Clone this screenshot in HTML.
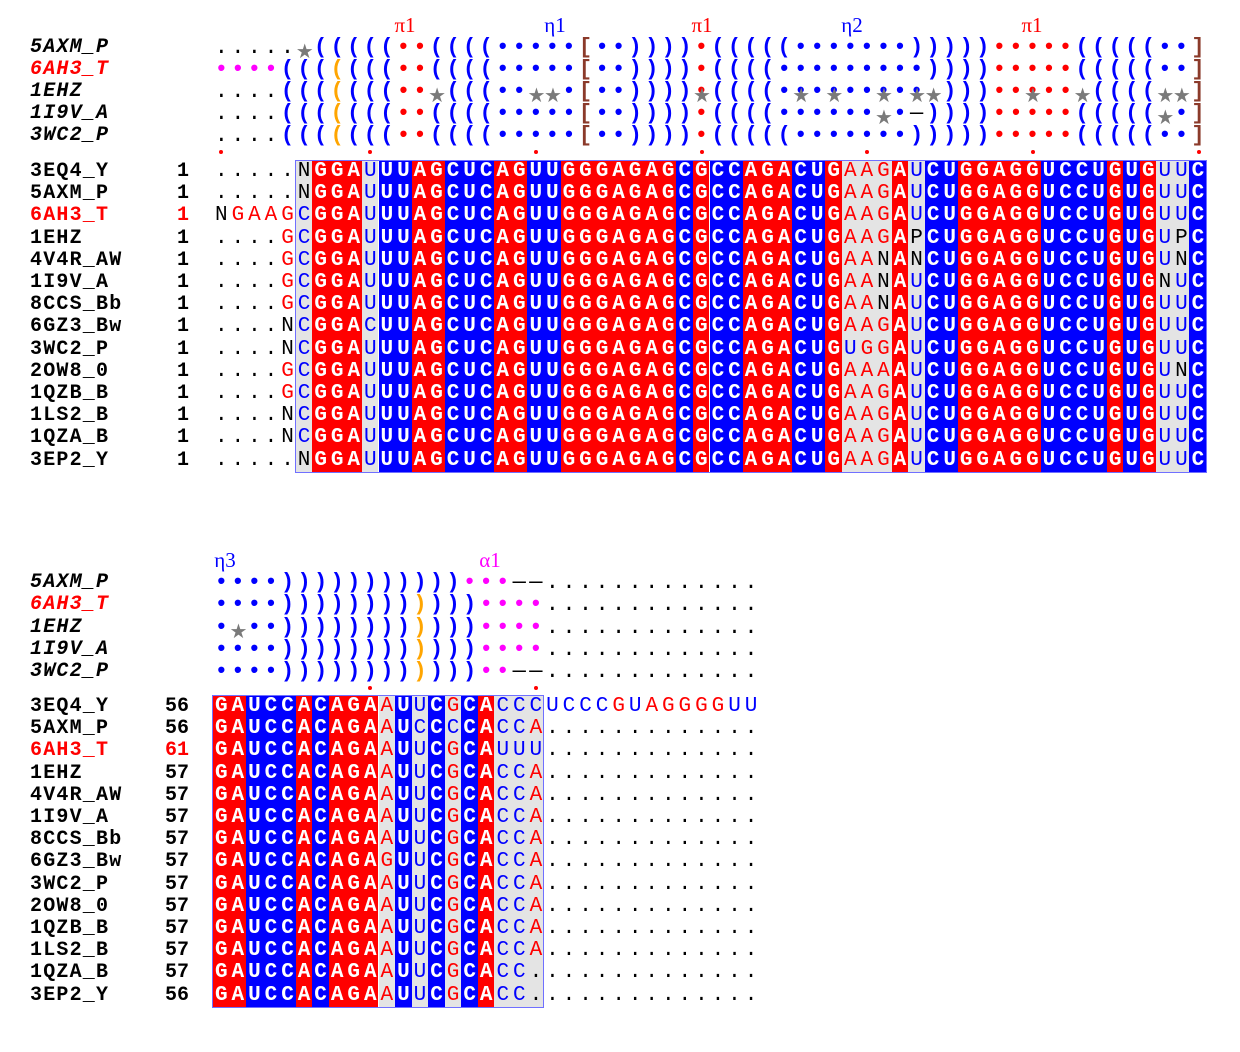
<!DOCTYPE html>
<html><head><meta charset="utf-8"><style>
body{margin:0;background:#fff;width:1240px;height:1052px;position:relative;overflow:hidden}
div{position:absolute}
.c{height:310.8px}
.g{background:#e4e4e4}.R{background:#ff0000}.U{background:#0000ff}
.row{left:215px;font-family:"Liberation Mono",monospace;font-size:21px;letter-spacing:3.95px;line-height:22.2px;white-space:pre;font-weight:bold}
.st{left:214.7px;font-family:"Liberation Mono",monospace;font-size:22px;letter-spacing:3.35px;line-height:22px;white-space:pre}
.w{color:#fff;font-weight:bold}.r{color:#f00;font-weight:normal}.b{color:#00f;font-weight:normal}.k{color:#000;font-weight:normal}
.st .b,.st .r{font-weight:bold}.m{color:#f0f;font-weight:bold}.o{color:#ffa500;font-weight:bold}.n{color:#8b3a2a;font-weight:bold}
.nm{left:30px;font-family:"Liberation Mono",monospace;font-size:20px;letter-spacing:1.2px;font-weight:bold;line-height:22.2px;white-space:pre}
.it{font-style:italic}
.num{width:60px;left:129px;text-align:right;font-family:"Liberation Mono",monospace;font-size:20px;font-weight:bold;line-height:22.2px}
.star{width:16.55px;text-align:center;color:#7a7a7a;font-family:"DejaVu Sans",sans-serif;font-size:20px;line-height:22px}
.lab{font-family:"Liberation Serif",serif;font-size:21px;line-height:24px;width:40px;text-align:center}
.dot{width:4px;height:4px;border-radius:2px;background:#f00}
.box{border:1.5px solid #7070ff;box-sizing:border-box}
</style></head><body>

<div class="lab" style="left:385px;top:13px;color:#f00">π1</div>
<div class="lab" style="left:535px;top:13px;color:#00f">η1</div>
<div class="lab" style="left:682px;top:13px;color:#f00">π1</div>
<div class="lab" style="left:832px;top:13px;color:#00f">η2</div>
<div class="lab" style="left:1012px;top:13px;color:#f00">π1</div>

<div class="nm it" style="top:37px">5AXM_P</div>
<div class="nm it" style="top:59px;color:#f00">6AH3_T</div>
<div class="nm it" style="top:81px">1EHZ</div>
<div class="nm it" style="top:103px">1I9V_A</div>
<div class="nm it" style="top:125px">3WC2_P</div>

<div class="st" style="top:37px"><span class="k">.....</span> <span class="b">(((((</span><span class="r">••</span><span class="b">((((•••••</span><span class="n">[</span><span class="b">••))))</span><span class="r">•</span><span class="b">(((((•••••••)))))</span><span class="r">•••••</span><span class="b">(((((••</span><span class="n">]</span></div>
<div class="st" style="top:59px"><span class="m">••••</span><span class="b">(((</span><span class="o">(</span><span class="b">(((</span><span class="r">••</span><span class="b">((((•••••</span><span class="n">[</span><span class="b">••))))</span><span class="r">•</span><span class="b">((((•••••••••))))</span><span class="r">•••••</span><span class="b">(((((••</span><span class="n">]</span></div>
<div class="st" style="top:81px"><span class="k">....</span><span class="b">(((</span><span class="o">(</span><span class="b">(((</span><span class="r">••</span><span class="b"> (((••  •</span><span class="n">[</span><span class="b">••))))</span><span class="r">•</span><span class="b">((((••••••••• )))</span><span class="r">•••••</span><span class="b"> ((((  </span><span class="n">]</span></div>
<div class="st" style="top:103px"><span class="k">....</span><span class="b">(((</span><span class="o">(</span><span class="b">(((</span><span class="r">••</span><span class="b">((((•••••</span><span class="n">[</span><span class="b">••))))</span><span class="r">•</span><span class="b">((((•••••• •</span><span class="k">—</span><span class="b">))))</span><span class="r">•••••</span><span class="b">((((( •</span><span class="n">]</span></div>
<div class="st" style="top:125px"><span class="k">....</span><span class="b">(((</span><span class="o">(</span><span class="b">(((</span><span class="r">••</span><span class="b">((((•••••</span><span class="n">[</span><span class="b">••))))</span><span class="r">•</span><span class="b">(((((•••••••)))))</span><span class="r">•••••</span><span class="b">(((((••</span><span class="n">]</span></div>

<div class="star" style="left:295.75px;top:40px">★</div>
<div class="star" style="left:428.15px;top:84px">★</div>
<div class="star" style="left:527.45px;top:84px">★</div>
<div class="star" style="left:544px;top:84px">★</div>
<div class="star" style="left:692.95px;top:84px">★</div>
<div class="star" style="left:792.25px;top:84px">★</div>
<div class="star" style="left:825.35px;top:84px">★</div>
<div class="star" style="left:874.999px;top:84px">★</div>
<div class="star" style="left:908.1px;top:84px">★</div>
<div class="star" style="left:924.65px;top:84px">★</div>
<div class="star" style="left:1024px;top:84px">★</div>
<div class="star" style="left:1073.6px;top:84px">★</div>
<div class="star" style="left:1156.35px;top:84px">★</div>
<div class="star" style="left:1172.9px;top:84px">★</div>
<div class="star" style="left:874.999px;top:106px">★</div>
<div class="star" style="left:1156.35px;top:106px">★</div>

<div class="dot" style="left:219px;top:150px"></div>
<div class="dot" style="left:368px;top:150px"></div>
<div class="dot" style="left:534px;top:150px"></div>
<div class="dot" style="left:700px;top:150px"></div>
<div class="dot" style="left:865px;top:150px"></div>
<div class="dot" style="left:1031px;top:150px"></div>
<div class="dot" style="left:1197px;top:150px"></div>

<div class="c g" style="left:295.75px;top:161px;width:16.55px"></div>
<div class="c R" style="left:312.3px;top:161px;width:49.65px"></div>
<div class="c g" style="left:361.95px;top:161px;width:16.55px"></div>
<div class="c U" style="left:378.5px;top:161px;width:33.1px"></div>
<div class="c R" style="left:411.6px;top:161px;width:33.1px"></div>
<div class="c U" style="left:444.7px;top:161px;width:49.65px"></div>
<div class="c R" style="left:494.35px;top:161px;width:33.1px"></div>
<div class="c U" style="left:527.45px;top:161px;width:33.1px"></div>
<div class="c R" style="left:560.55px;top:161px;width:115.85px"></div>
<div class="c U" style="left:676.4px;top:161px;width:16.55px"></div>
<div class="c R" style="left:692.95px;top:161px;width:16.55px"></div>
<div class="c U" style="left:709.5px;top:161px;width:33.1px"></div>
<div class="c R" style="left:742.6px;top:161px;width:49.65px"></div>
<div class="c U" style="left:792.25px;top:161px;width:33.1px"></div>
<div class="c R" style="left:825.35px;top:161px;width:16.55px"></div>
<div class="c g" style="left:841.9px;top:161px;width:49.65px"></div>
<div class="c R" style="left:891.55px;top:161px;width:16.55px"></div>
<div class="c g" style="left:908.1px;top:161px;width:16.55px"></div>
<div class="c U" style="left:924.65px;top:161px;width:33.1px"></div>
<div class="c R" style="left:957.75px;top:161px;width:82.75px"></div>
<div class="c U" style="left:1040.5px;top:161px;width:66.2px"></div>
<div class="c R" style="left:1106.7px;top:161px;width:16.55px"></div>
<div class="c U" style="left:1123.25px;top:161px;width:16.55px"></div>
<div class="c R" style="left:1139.8px;top:161px;width:16.55px"></div>
<div class="c g" style="left:1156.35px;top:161px;width:33.1px"></div>
<div class="c U" style="left:1189.45px;top:161px;width:16.55px"></div>
<div class="box" style="left:295px;top:160px;width:912px;height:313px"></div>

<div class="nm" style="top:161px">3EQ4_Y</div><div class="num" style="top:161px">1</div>
<div class="nm" style="top:183.2px">5AXM_P</div><div class="num" style="top:183.2px">1</div>
<div class="nm" style="top:205.4px;color:#f00">6AH3_T</div><div class="num" style="top:205.4px;color:#f00">1</div>
<div class="nm" style="top:227.6px">1EHZ</div><div class="num" style="top:227.6px">1</div>
<div class="nm" style="top:249.8px">4V4R_AW</div><div class="num" style="top:249.8px">1</div>
<div class="nm" style="top:272px">1I9V_A</div><div class="num" style="top:272px">1</div>
<div class="nm" style="top:294.2px">8CCS_Bb</div><div class="num" style="top:294.2px">1</div>
<div class="nm" style="top:316.4px">6GZ3_Bw</div><div class="num" style="top:316.4px">1</div>
<div class="nm" style="top:338.6px">3WC2_P</div><div class="num" style="top:338.6px">1</div>
<div class="nm" style="top:360.8px">2OW8_0</div><div class="num" style="top:360.8px">1</div>
<div class="nm" style="top:383px">1QZB_B</div><div class="num" style="top:383px">1</div>
<div class="nm" style="top:405.2px">1LS2_B</div><div class="num" style="top:405.2px">1</div>
<div class="nm" style="top:427.4px">1QZA_B</div><div class="num" style="top:427.4px">1</div>
<div class="nm" style="top:449.6px">3EP2_Y</div><div class="num" style="top:449.6px">1</div>

<div class="row" style="top:161px"><span class="k">.....N</span><span class="w">GGA</span><span class="b">U</span><span class="w">UUAGCUCAGUUGGGAGAGCGCCAGACUG</span><span class="r">AAG</span><span class="w">A</span><span class="b">U</span><span class="w">CUGGAGGUCCUGUG</span><span class="b">UU</span><span class="w">C</span></div>
<div class="row" style="top:183.2px"><span class="k">.....N</span><span class="w">GGA</span><span class="b">U</span><span class="w">UUAGCUCAGUUGGGAGAGCGCCAGACUG</span><span class="r">AAG</span><span class="w">A</span><span class="b">U</span><span class="w">CUGGAGGUCCUGUG</span><span class="b">UU</span><span class="w">C</span></div>
<div class="row" style="top:205.4px"><span class="k">N</span><span class="r">GAAG</span><span class="b">C</span><span class="w">GGA</span><span class="b">U</span><span class="w">UUAGCUCAGUUGGGAGAGCGCCAGACUG</span><span class="r">AAG</span><span class="w">A</span><span class="b">U</span><span class="w">CUGGAGGUCCUGUG</span><span class="b">UU</span><span class="w">C</span></div>
<div class="row" style="top:227.6px"><span class="k">....</span><span class="r">G</span><span class="b">C</span><span class="w">GGA</span><span class="b">U</span><span class="w">UUAGCUCAGUUGGGAGAGCGCCAGACUG</span><span class="r">AAG</span><span class="w">A</span><span class="k">P</span><span class="w">CUGGAGGUCCUGUG</span><span class="b">U</span><span class="k">P</span><span class="w">C</span></div>
<div class="row" style="top:249.8px"><span class="k">....</span><span class="r">G</span><span class="b">C</span><span class="w">GGA</span><span class="b">U</span><span class="w">UUAGCUCAGUUGGGAGAGCGCCAGACUG</span><span class="r">AA</span><span class="k">N</span><span class="w">A</span><span class="k">N</span><span class="w">CUGGAGGUCCUGUG</span><span class="b">U</span><span class="k">N</span><span class="w">C</span></div>
<div class="row" style="top:272px"><span class="k">....</span><span class="r">G</span><span class="b">C</span><span class="w">GGA</span><span class="b">U</span><span class="w">UUAGCUCAGUUGGGAGAGCGCCAGACUG</span><span class="r">AA</span><span class="k">N</span><span class="w">A</span><span class="b">U</span><span class="w">CUGGAGGUCCUGUG</span><span class="k">N</span><span class="b">U</span><span class="w">C</span></div>
<div class="row" style="top:294.2px"><span class="k">....</span><span class="r">G</span><span class="b">C</span><span class="w">GGA</span><span class="b">U</span><span class="w">UUAGCUCAGUUGGGAGAGCGCCAGACUG</span><span class="r">AA</span><span class="k">N</span><span class="w">A</span><span class="b">U</span><span class="w">CUGGAGGUCCUGUG</span><span class="b">UU</span><span class="w">C</span></div>
<div class="row" style="top:316.4px"><span class="k">....N</span><span class="b">C</span><span class="w">GGA</span><span class="b">C</span><span class="w">UUAGCUCAGUUGGGAGAGCGCCAGACUG</span><span class="r">AAG</span><span class="w">A</span><span class="b">U</span><span class="w">CUGGAGGUCCUGUG</span><span class="b">UU</span><span class="w">C</span></div>
<div class="row" style="top:338.6px"><span class="k">....N</span><span class="b">C</span><span class="w">GGA</span><span class="b">U</span><span class="w">UUAGCUCAGUUGGGAGAGCGCCAGACUG</span><span class="b">U</span><span class="r">GG</span><span class="w">A</span><span class="b">U</span><span class="w">CUGGAGGUCCUGUG</span><span class="b">UU</span><span class="w">C</span></div>
<div class="row" style="top:360.8px"><span class="k">....</span><span class="r">G</span><span class="b">C</span><span class="w">GGA</span><span class="b">U</span><span class="w">UUAGCUCAGUUGGGAGAGCGCCAGACUG</span><span class="r">AAA</span><span class="w">A</span><span class="b">U</span><span class="w">CUGGAGGUCCUGUG</span><span class="b">U</span><span class="k">N</span><span class="w">C</span></div>
<div class="row" style="top:383px"><span class="k">....</span><span class="r">G</span><span class="b">C</span><span class="w">GGA</span><span class="b">U</span><span class="w">UUAGCUCAGUUGGGAGAGCGCCAGACUG</span><span class="r">AAG</span><span class="w">A</span><span class="b">U</span><span class="w">CUGGAGGUCCUGUG</span><span class="b">UU</span><span class="w">C</span></div>
<div class="row" style="top:405.2px"><span class="k">....N</span><span class="b">C</span><span class="w">GGA</span><span class="b">U</span><span class="w">UUAGCUCAGUUGGGAGAGCGCCAGACUG</span><span class="r">AAG</span><span class="w">A</span><span class="b">U</span><span class="w">CUGGAGGUCCUGUG</span><span class="b">UU</span><span class="w">C</span></div>
<div class="row" style="top:427.4px"><span class="k">....N</span><span class="b">C</span><span class="w">GGA</span><span class="b">U</span><span class="w">UUAGCUCAGUUGGGAGAGCGCCAGACUG</span><span class="r">AAG</span><span class="w">A</span><span class="b">U</span><span class="w">CUGGAGGUCCUGUG</span><span class="b">UU</span><span class="w">C</span></div>
<div class="row" style="top:449.6px"><span class="k">.....N</span><span class="w">GGA</span><span class="b">U</span><span class="w">UUAGCUCAGUUGGGAGAGCGCCAGACUG</span><span class="r">AAG</span><span class="w">A</span><span class="b">U</span><span class="w">CUGGAGGUCCUGUG</span><span class="b">UU</span><span class="w">C</span></div>

<div class="lab" style="left:205px;top:548px;color:#00f">η3</div>
<div class="lab" style="left:470px;top:548px;color:#f0f">α1</div>

<div class="nm it" style="top:572px">5AXM_P</div>
<div class="nm it" style="top:594px;color:#f00">6AH3_T</div>
<div class="nm it" style="top:617px">1EHZ</div>
<div class="nm it" style="top:639px">1I9V_A</div>
<div class="nm it" style="top:661px">3WC2_P</div>

<div class="st" style="top:572px"><span class="b">••••)))))))))))</span><span class="m">•••</span><span class="k">——.............</span></div>
<div class="st" style="top:594px"><span class="b">••••))))))))</span><span class="o">)</span><span class="b">)))</span><span class="m">••••</span><span class="k">.............</span></div>
<div class="st" style="top:617px"><span class="b">• ••))))))))</span><span class="o">)</span><span class="b">)))</span><span class="m">••••</span><span class="k">.............</span></div>
<div class="st" style="top:639px"><span class="b">••••))))))))</span><span class="o">)</span><span class="b">)))</span><span class="m">••••</span><span class="k">.............</span></div>
<div class="st" style="top:661px"><span class="b">••••))))))))</span><span class="o">)</span><span class="b">)))</span><span class="m">••</span><span class="k">——.............</span></div>
<div class="star" style="left:229.55px;top:620px">★</div>

<div class="dot" style="left:368px;top:686px"></div>
<div class="dot" style="left:534px;top:686px"></div>

<div class="c R" style="left:213px;top:696px;width:33.1px"></div>
<div class="c U" style="left:246.1px;top:696px;width:49.65px"></div>
<div class="c R" style="left:295.75px;top:696px;width:16.55px"></div>
<div class="c U" style="left:312.3px;top:696px;width:16.55px"></div>
<div class="c R" style="left:328.85px;top:696px;width:49.65px"></div>
<div class="c g" style="left:378.5px;top:696px;width:16.55px"></div>
<div class="c U" style="left:395.05px;top:696px;width:16.55px"></div>
<div class="c g" style="left:411.6px;top:696px;width:16.55px"></div>
<div class="c U" style="left:428.15px;top:696px;width:16.55px"></div>
<div class="c g" style="left:444.7px;top:696px;width:16.55px"></div>
<div class="c U" style="left:461.25px;top:696px;width:16.55px"></div>
<div class="c R" style="left:477.8px;top:696px;width:16.55px"></div>
<div class="c g" style="left:494.35px;top:696px;width:49.65px"></div>
<div class="box" style="left:212px;top:695px;width:332px;height:313px"></div>

<div class="nm" style="top:696px">3EQ4_Y</div><div class="num" style="top:696px">56</div>
<div class="nm" style="top:718.2px">5AXM_P</div><div class="num" style="top:718.2px">56</div>
<div class="nm" style="top:740.4px;color:#f00">6AH3_T</div><div class="num" style="top:740.4px;color:#f00">61</div>
<div class="nm" style="top:762.6px">1EHZ</div><div class="num" style="top:762.6px">57</div>
<div class="nm" style="top:784.8px">4V4R_AW</div><div class="num" style="top:784.8px">57</div>
<div class="nm" style="top:807px">1I9V_A</div><div class="num" style="top:807px">57</div>
<div class="nm" style="top:829.2px">8CCS_Bb</div><div class="num" style="top:829.2px">57</div>
<div class="nm" style="top:851.4px">6GZ3_Bw</div><div class="num" style="top:851.4px">57</div>
<div class="nm" style="top:873.6px">3WC2_P</div><div class="num" style="top:873.6px">57</div>
<div class="nm" style="top:895.8px">2OW8_0</div><div class="num" style="top:895.8px">57</div>
<div class="nm" style="top:918px">1QZB_B</div><div class="num" style="top:918px">57</div>
<div class="nm" style="top:940.2px">1LS2_B</div><div class="num" style="top:940.2px">57</div>
<div class="nm" style="top:962.4px">1QZA_B</div><div class="num" style="top:962.4px">57</div>
<div class="nm" style="top:984.6px">3EP2_Y</div><div class="num" style="top:984.6px">56</div>

<div class="row" style="top:696px"><span class="w">GAUCCACAGA</span><span class="r">A</span><span class="w">U</span><span class="b">U</span><span class="w">C</span><span class="r">G</span><span class="w">CA</span><span class="b">CCCUCCC</span><span class="r">G</span><span class="b">U</span><span class="r">AGGGG</span><span class="b">UU</span></div>
<div class="row" style="top:718.2px"><span class="w">GAUCCACAGA</span><span class="r">A</span><span class="w">U</span><span class="b">C</span><span class="w">C</span><span class="b">C</span><span class="w">CA</span><span class="b">CC</span><span class="r">A</span><span class="k">.............</span></div>
<div class="row" style="top:740.4px"><span class="w">GAUCCACAGA</span><span class="r">A</span><span class="w">U</span><span class="b">U</span><span class="w">C</span><span class="r">G</span><span class="w">CA</span><span class="b">UUU</span><span class="k">.............</span></div>
<div class="row" style="top:762.6px"><span class="w">GAUCCACAGA</span><span class="r">A</span><span class="w">U</span><span class="b">U</span><span class="w">C</span><span class="r">G</span><span class="w">CA</span><span class="b">CC</span><span class="r">A</span><span class="k">.............</span></div>
<div class="row" style="top:784.8px"><span class="w">GAUCCACAGA</span><span class="r">A</span><span class="w">U</span><span class="b">U</span><span class="w">C</span><span class="r">G</span><span class="w">CA</span><span class="b">CC</span><span class="r">A</span><span class="k">.............</span></div>
<div class="row" style="top:807px"><span class="w">GAUCCACAGA</span><span class="r">A</span><span class="w">U</span><span class="b">U</span><span class="w">C</span><span class="r">G</span><span class="w">CA</span><span class="b">CC</span><span class="r">A</span><span class="k">.............</span></div>
<div class="row" style="top:829.2px"><span class="w">GAUCCACAGA</span><span class="r">A</span><span class="w">U</span><span class="b">U</span><span class="w">C</span><span class="r">G</span><span class="w">CA</span><span class="b">CC</span><span class="r">A</span><span class="k">.............</span></div>
<div class="row" style="top:851.4px"><span class="w">GAUCCACAGA</span><span class="r">G</span><span class="w">U</span><span class="b">U</span><span class="w">C</span><span class="r">G</span><span class="w">CA</span><span class="b">CC</span><span class="r">A</span><span class="k">.............</span></div>
<div class="row" style="top:873.6px"><span class="w">GAUCCACAGA</span><span class="r">A</span><span class="w">U</span><span class="b">U</span><span class="w">C</span><span class="r">G</span><span class="w">CA</span><span class="b">CC</span><span class="r">A</span><span class="k">.............</span></div>
<div class="row" style="top:895.8px"><span class="w">GAUCCACAGA</span><span class="r">A</span><span class="w">U</span><span class="b">U</span><span class="w">C</span><span class="r">G</span><span class="w">CA</span><span class="b">CC</span><span class="r">A</span><span class="k">.............</span></div>
<div class="row" style="top:918px"><span class="w">GAUCCACAGA</span><span class="r">A</span><span class="w">U</span><span class="b">U</span><span class="w">C</span><span class="r">G</span><span class="w">CA</span><span class="b">CC</span><span class="r">A</span><span class="k">.............</span></div>
<div class="row" style="top:940.2px"><span class="w">GAUCCACAGA</span><span class="r">A</span><span class="w">U</span><span class="b">U</span><span class="w">C</span><span class="r">G</span><span class="w">CA</span><span class="b">CC</span><span class="r">A</span><span class="k">.............</span></div>
<div class="row" style="top:962.4px"><span class="w">GAUCCACAGA</span><span class="r">A</span><span class="w">U</span><span class="b">U</span><span class="w">C</span><span class="r">G</span><span class="w">CA</span><span class="b">CC</span><span class="k">..............</span></div>
<div class="row" style="top:984.6px"><span class="w">GAUCCACAGA</span><span class="r">A</span><span class="w">U</span><span class="b">U</span><span class="w">C</span><span class="r">G</span><span class="w">CA</span><span class="b">CC</span><span class="k">..............</span></div>

</body></html>
